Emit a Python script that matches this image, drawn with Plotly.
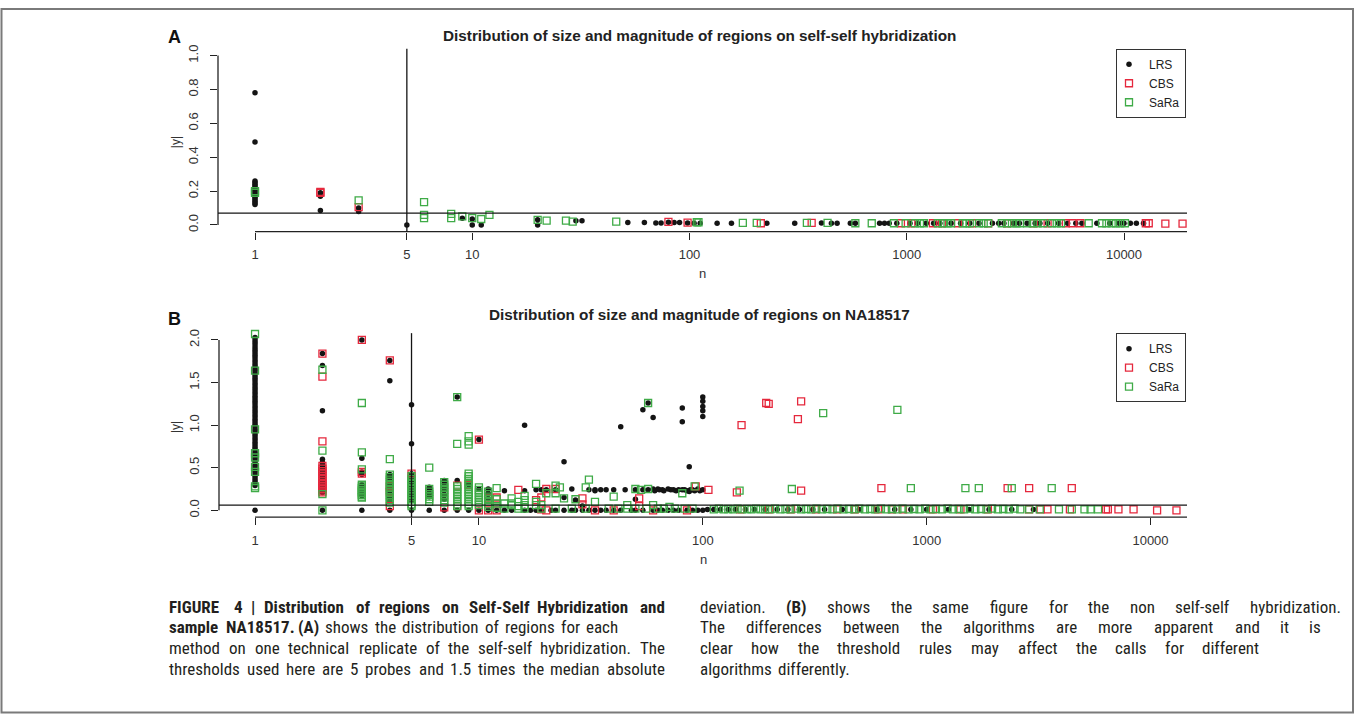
import math
import plotly.graph_objects as go

W, H = 1356, 714

# ---------------- Panel A : self-self hybridization ----------------
# entries: (n, |y|) or (n, [|y| values at that n])
lrs_a = [
    (1, [0.78, 0.49, 0.26, 0.25, 0.24, 0.23, 0.22, 0.21, 0.20, 0.19, 0.18, 0.17, 0.16, 0.15, 0.14, 0.13, 0.12]),
    (2, [0.19, 0.17, 0.085]), (3, [0.10, 0.08]), (5, 0.0),
    (9, 0.04), (10, [0.035, 0.0]), (11, 0.0), (20, [0.03, 0.0]), (30, 0.025), (32, 0.025),
    (52, 0.015), (62, 0.015), (70, 0.012), (74, 0.012), (80, 0.016), (85, 0.015), (90, 0.015),
    (98, 0.012), (105, 0.01), (112, 0.01), (134, 0.01), (156, 0.01), (227, 0.01), (305, 0.01),
    (405, 0.012), (450, 0.01), (478, 0.01), (550, 0.01), (580, 0.01), (750, 0.01), (790, 0.01),
    (830, 0.01), (900, 0.01), (1035, 0.01), (1120, 0.01), (1230, 0.01), (1330, 0.01), (1420, 0.01),
    (1600, 0.01), (1770, 0.01), (1950, 0.01), (2150, 0.01), (2480, 0.01), (2650, 0.01), (2800, 0.01),
    (3100, 0.01), (3300, 0.01), (3580, 0.01), (3900, 0.01), (4100, 0.01), (4450, 0.01), (5000, 0.01),
    (5500, 0.01), (6000, 0.01), (6400, 0.01), (7500, 0.01), (8600, 0.01), (9500, 0.01), (10000, 0.01),
    (10700, 0.01), (11400, 0.01), (12300, 0.01),
]
cbs_a = [
    (2, [0.195, 0.19]), (3, 0.105), (80, 0.018), (98, 0.014), (213, 0.01), (365, 0.012),
    (940, 0.01), (1050, 0.01), (1320, 0.01), (1450, 0.01), (1720, 0.01), (2000, 0.01), (2370, 0.01),
    (2900, 0.01), (3840, 0.01), (4450, 0.01), (5400, 0.01), (5800, 0.01), (6300, 0.01),
    (12600, 0.01), (13000, 0.01), (15500, 0.008), (18600, 0.008),
]
sara_a = [
    (1, [0.20, 0.19]), (3, 0.145), (6, [0.135, 0.06, 0.04]), (8, [0.065, 0.04]), (9, 0.05),
    (10, 0.04), (11, 0.035), (12, 0.06), (20, 0.03), (22, 0.025), (27, 0.025), (29, 0.02),
    (46, 0.02), (108, 0.016), (110, 0.016), (176, 0.012), (204, 0.012), (347, 0.012), (432, 0.012),
    (580, 0.01), (690, 0.01), (873, 0.01), (988, 0.01), (1090, 0.01), (1150, 0.01), (1200, 0.01),
    (1390, 0.01), (1470, 0.01), (1540, 0.01), (1600, 0.01), (1810, 0.01), (1880, 0.01), (1950, 0.01),
    (2150, 0.01), (2260, 0.01), (2370, 0.01), (2740, 0.01), (2900, 0.01), (3050, 0.01), (3200, 0.01),
    (3320, 0.01), (3580, 0.01), (3800, 0.01), (4000, 0.01), (4240, 0.01), (4660, 0.01), (4900, 0.01),
    (5130, 0.01), (6880, 0.01), (7920, 0.01), (8300, 0.01), (8770, 0.01), (9190, 0.01), (9600, 0.01),
    (10100, 0.01),
]
thr_a = 0.07

# ---------------- Panel B : NA18517 ----------------
lrs_b = [
    (1, [2.03, 2.0, 1.97, 1.94, 1.91, 1.88, 1.85, 1.82, 1.79, 1.76, 1.73, 1.70, 1.67, 1.64, 1.61,
         1.58, 1.55, 1.52, 1.49, 1.46, 1.43, 1.40, 1.37, 1.34, 1.31, 1.28, 1.25, 1.22, 1.19, 1.16,
         1.13, 1.10, 1.07, 1.04, 1.01, 0.98, 0.95, 0.92, 0.89, 0.86, 0.83, 0.80, 0.77, 0.74, 0.71,
         0.68, 0.65, 0.62, 0.59, 0.56, 0.53, 0.50, 0.47, 0.44, 0.41, 0.38, 0.35, 0.32, 0.29, 0.0]),
    (2, [1.84, 1.70, 1.17, 0.60, 0.56, 0.53, 0.50, 0.47, 0.44, 0.40, 0.36, 0.33, 0.30, 0.27, 0.24, 0.21, 0.0]),
    (3, [2.0, 0.61, 0.45, 0.42, 0.30, 0.27, 0.24, 0.20, 0.17, 0.0]),
    (4, [1.76, 1.52, 0.42, 0.39, 0.35, 0.31, 0.27, 0.23, 0.19, 0.15, 0.11, 0.0]),
    (5, [1.24, 0.78, 0.43, 0.38, 0.33, 0.28, 0.24, 0.20, 0.16, 0.12, 0.0]),
    (6, [0.27, 0.24, 0.20, 0.16, 0.0]), (7, [0.35, 0.32, 0.28, 0.23, 0.18, 0.13, 0.0]),
    (8, [1.33, 0.35, 0.0]), (9, [0.30, 0.0]), (10, [0.83, 0.25, 0.0]), (11, [0.25, 0.20, 0.14, 0.0]),
    (12, 0.0), (13, [0.23, 0.0]), (14, 0.0), (16, [1.0, 0.23, 0.0]), (17, 0.0), (18, [0.24, 0.0]),
    (19, [0.24, 0.0]), (20, 0.24), (21, 0.0), (22, [0.24, 0.0]), (24, [0.57, 0.15, 0.0]),
    (26, [0.25, 0.0]), (27, [0.12, 0.0]), (29, [0.05, 0.0]), (31, [0.24, 0.0]), (33, [0.24, 0.23, 0.0]),
    (35, [0.24, 0.0]), (37, [0.24, 0.0]), (40, [0.24, 0.0]), (43, [0.98, 0.0]), (45, 0.24), (48, 0.0),
    (50, [0.24, 0.13, 0.0]), (54, [1.18, 0.24, 0.0]), (57, [1.26, 0.24]), (60, [1.09, 0.25, 0.0]),
    (61, 0.23), (63, [0.25, 0.0]), (64, 0.24), (66, [0.24, 0.0]), (67, 0.23), (70, [0.25, 0.0]),
    (72, 0.24), (74, [0.24, 0.0]), (76, 0.23), (78, [0.24, 0.0]), (81, [1.20, 1.04, 0.24]), (83, 0.24),
    (85, [0.23, 0.0]), (87, [0.51, 0.22]), (88, 0.24), (90, [0.24, 0.0]), (92, 0.23), (95, [0.25, 0.0]),
    (97, 0.23), (100, [1.33, 1.28, 1.22, 1.17, 1.10, 0.24, 0.0]),
    (105, 0.01), (112, 0.01), (120, 0.01), (130, 0.01), (140, 0.01), (155, 0.01), (170, 0.01),
    (190, 0.01), (215, 0.01), (240, 0.01), (270, 0.01), (310, 0.01), (350, 0.01), (420, 0.01),
    (500, 0.01), (600, 0.01), (720, 0.01), (850, 0.01), (1000, 0.01), (1250, 0.01), (1550, 0.01),
    (1900, 0.01), (2400, 0.01), (3000, 0.01),
]
cbs_b = [
    (2, [1.84, 1.57, 0.81, 0.52, 0.49, 0.46, 0.43, 0.40, 0.37, 0.34, 0.31, 0.29, 0.27, 0.25, 0.23, 0.21]),
    (3, [2.0, 0.45, 0.43]), (4, [1.76, 0.28, 0.22, 0.05]), (5, 0.43), (7, 0.035), (8, [0.29, 0.05]),
    (9, 0.30), (10, [0.83, 0.0]), (11, [0.14, 0.0]), (12, [0.15, 0.0]), (15, 0.24), (18, 0.12),
    (19, [0.15, 0.01]), (20, [0.25, 0.0]), (22, 0.25), (29, [0.14, 0.07]), (33, 0.0), (40, 0.0),
    (52, [0.14, 0.05]), (60, 0.0), (85, 0.0), (93, 0.28), (106, 0.24), (142, 0.21), (147, 0.01),
    (149, 1.00), (192, 1.26), (197, [1.25, 0.01]), (248, 0.01), (266, 1.07), (275, [1.28, 0.23]),
    (320, 0.01), (398, 0.01), (478, 0.01), (606, 0.01), (628, 0.26), (700, 0.01), (784, 0.01),
    (1067, 0.01), (1416, 0.01), (1878, 0.01), (2300, 0.26), (2864, 0.01), (2870, 0.26), (3228, 0.01),
    (3465, 0.01), (4365, 0.01), (4450, 0.26), (6320, 0.01), (6450, 0.01), (7190, 0.01), (8400, 0.01),
    (10700, 0.0), (13060, 0.0),
]
sara_b = [
    (1, [2.07, 1.64, 0.95, 0.67, 0.62, 0.51, 0.45, 0.28, 0.26]),
    (2, [1.65, 0.70, 0.19, 0.0]),
    (3, [1.26, 0.68, 0.48, 0.30, 0.28, 0.26, 0.24, 0.22, 0.20, 0.18, 0.16, 0.15]),
    (4, [0.60, 0.42, 0.39, 0.36, 0.33, 0.30, 0.27, 0.24, 0.21, 0.18, 0.15, 0.12, 0.09]),
    (5, [0.40, 0.37, 0.34, 0.31, 0.28, 0.25, 0.22, 0.19, 0.16, 0.13, 0.10, 0.07, 0.05]),
    (6, [0.50, 0.25, 0.22, 0.19, 0.16, 0.13, 0.10]),
    (7, [0.33, 0.30, 0.27, 0.24, 0.21, 0.18, 0.15, 0.12, 0.09]),
    (8, [1.33, 0.78, 0.28, 0.25, 0.22, 0.19, 0.16, 0.13, 0.10, 0.07, 0.05]),
    (9, [0.87, 0.81, 0.77, 0.43, 0.40, 0.37, 0.34, 0.31, 0.28, 0.25, 0.22, 0.19, 0.16, 0.13, 0.10, 0.07, 0.05]),
    (10, [0.27, 0.24, 0.21, 0.18, 0.15, 0.12, 0.09, 0.06]),
    (11, [0.22, 0.19, 0.16, 0.13, 0.10, 0.07, 0.04]),
    (12, [0.26, 0.13, 0.08, 0.03]), (13, [0.08, 0.02]), (14, [0.14, 0.08, 0.06]),
    (15, [0.10, 0.05, 0.02]), (16, [0.17, 0.12, 0.06, 0.02]), (18, [0.31, 0.10, 0.06]),
    (19, [0.06, 0.02]), (20, 0.20), (22, [0.29, 0.20, 0.02]), (23, 0.27), (24, 0.14), (26, 0.02),
    (27, 0.13), (30, [0.27, 0.02]), (31, 0.36), (33, 0.10), (38, 0.02), (40, 0.16), (42, 0.02),
    (46, [0.06, 0.02]), (50, [0.25, 0.02]), (53, 0.24), (56, 0.02), (57, [1.26, 0.25]), (60, 0.06),
    (63, 0.02), (67, 0.02), (71, 0.04), (75, 0.02), (81, 0.20), (83, 0.02), (90, 0.02), (92, 0.28),
    (112, 0.01), (118, 0.02), (124, 0.01), (130, 0.015), (137, 0.01), (143, 0.02), (146, 0.23),
    (150, 0.01), (158, 0.015), (165, 0.01), (173, 0.02), (181, 0.01), (190, 0.015), (200, 0.01),
    (210, 0.02), (222, 0.01), (234, 0.015), (246, 0.01), (250, 0.25), (260, 0.02), (275, 0.01),
    (290, 0.015), (305, 0.01), (322, 0.02), (340, 0.01), (345, 1.14), (360, 0.015), (380, 0.01),
    (400, 0.02), (425, 0.01), (450, 0.015), (475, 0.01), (500, 0.02), (530, 0.01), (560, 0.015),
    (590, 0.01), (625, 0.02), (660, 0.01), (700, 0.015), (740, [1.18, 0.01]), (780, 0.02),
    (830, 0.01), (850, 0.26), (880, 0.015), (930, 0.01), (985, 0.02), (1040, 0.01), (1100, 0.015),
    (1170, 0.01), (1240, 0.02), (1310, 0.01), (1390, 0.015), (1470, 0.01), (1490, 0.26),
    (1560, 0.02), (1650, 0.01), (1710, 0.26), (1750, 0.015), (1850, 0.01), (1960, 0.02),
    (2080, 0.01), (2200, 0.015), (2330, 0.01), (2400, 0.26), (2470, 0.02), (2620, 0.01),
    (2870, 0.01), (3200, 0.01), (3620, 0.26), (3900, 0.01), (4450, 0.01), (5070, 0.01),
    (5400, 0.01), (5830, 0.01),
]
thr_b = 0.06

probe_threshold = 5
methods = ["LRS", "CBS", "SaRa"]
x_tickvals = [1, 5, 10, 100, 1000, 10000]
x_ticktext = ["1", "5", "10", "100", "1000", "10000"]
y_tickvals_a = [0, 0.2, 0.4, 0.6, 0.8, 1.0]
y_tickvals_b = [0, 0.5, 1.0, 1.5, 2.0]
titles = ["Distribution of size and magnitude of regions on self-self hybridization",
          "Distribution of size and magnitude of regions on NA18517"]
panel_letters = ["A", "B"]

caption_left = [
    "**FIGURE** **4** **|** **Distribution** **of** **regions** **on** **Self-Self** **Hybridization** **and**",
    "**sample** **NA18517.** **(A)** shows the distribution of regions for each",
    "method on one technical replicate of the self-self hybridization. The",
    "thresholds used here are 5 probes and 1.5 times the median absolute",
]
caption_right = [
    "deviation. **(B)** shows the same figure for the non self-self hybridization.",
    "The differences between the algorithms are more apparent and it is",
    "clear how the threshold rules may affect the calls for different",
    "algorithms differently.",
]

# ---------------- styling / geometry ----------------
RED = "#e5283d"
GREEN = "#3fab47"
BLACK = "#141414"
AXC = "#222222"
FONT = "Liberation Sans, Arial, sans-serif"
NARROW = "Roboto Condensed, Liberation Sans, sans-serif"

panels = [
    dict(left=218, right=1187, top=45, bottom=229, xr=[-0.1703, 4.290], yr=[-0.04, 1.04],
         yt=y_tickvals_a, thr=thr_a, data=(lrs_a, cbs_a, sara_a), title_y=32, letter_y=33,
         n_y=271, ymax=1.0),
    dict(left=219, right=1187, top=331, bottom=516, xr=[-0.161, 4.163], yr=[-0.08, 2.08],
         yt=y_tickvals_b, thr=thr_b, data=(lrs_b, cbs_b, sara_b), title_y=312, letter_y=317,
         n_y=559, ymax=2.0),
]


def flatten(groups):
    xs, ys = [], []
    for n, v in groups:
        vals = v if isinstance(v, list) else [v]
        for y in vals:
            xs.append(n)
            ys.append(y)
    return xs, ys


def fx(p):
    return p / W


def fy(p):
    return 1 - p / H


fig = go.Figure()
shapes = []
annotations = []
layout = {}

for i, p in enumerate(panels):
    k = "" if i == 0 else str(i + 1)
    xa, ya = "x" + k, "y" + k
    leg = "legend" if i == 0 else "legend2"
    styles = [
        dict(symbol="circle", size=5.5, color=BLACK),
        dict(symbol="square-open", size=7, color=RED, line=dict(width=1.3, color=RED)),
        dict(symbol="square-open", size=7, color=GREEN, line=dict(width=1.3, color=GREEN)),
    ]
    for name, groups, mk in zip(methods, p["data"], styles):
        xs, ys = flatten(groups)
        fig.add_trace(go.Scatter(x=xs, y=ys, mode="markers", name=name, marker=mk,
                                 xaxis=xa, yaxis=ya, legend=leg, cliponaxis=False,
                                 hoverinfo="x+y"))

    layout["xaxis" + k] = dict(
        domain=[fx(p["left"]), fx(p["right"])], type="log", range=p["xr"], anchor=ya,
        tickvals=x_tickvals, ticktext=x_ticktext, ticks="outside", ticklen=7, tickwidth=1.2,
        tickcolor=AXC, showgrid=False, zeroline=False, showline=False,
        tickfont=dict(family=FONT, size=13, color="#333"), ticklabelstandoff=4)
    layout["yaxis" + k] = dict(
        domain=[fy(p["bottom"]), fy(p["top"])], range=p["yr"], anchor=xa,
        tickvals=p["yt"], ticktext=["%.1f" % v for v in p["yt"]], tickangle=-90,
        ticks="outside", ticklen=7, tickwidth=1.2, tickcolor=AXC, showgrid=False,
        zeroline=False, showline=False, tickfont=dict(family=FONT, size=13, color="#333"),
        ticklabelstandoff=7)

    xr0, xr1 = p["xr"]
    span = xr1 - xr0
    # y axis line (0 .. max tick)
    shapes.append(dict(type="line", xref=xa + " domain", yref=ya, x0=0, x1=0, y0=0, y1=p["ymax"],
                       line=dict(color=AXC, width=1.3)))
    # x axis line from first tick to right edge
    shapes.append(dict(type="line", xref=xa + " domain", yref=ya + " domain",
                       x0=(0 - xr0) / span, x1=1, y0=0, y1=0, line=dict(color=AXC, width=1.3)))
    # threshold lines
    shapes.append(dict(type="line", xref=xa + " domain", yref=ya, x0=0, x1=1,
                       y0=p["thr"], y1=p["thr"], line=dict(color=BLACK, width=1.3)))
    xv = (math.log10(probe_threshold) - xr0) / span
    shapes.append(dict(type="line", xref=xa + " domain", yref=ya + " domain",
                       x0=xv, x1=xv, y0=0, y1=1, line=dict(color=BLACK, width=1.3)))

    layout[leg] = dict(x=fx(1186), xanchor="right", y=fy(p["top"]), yanchor="top",
                       bordercolor="#333", borderwidth=1, bgcolor="white",
                       font=dict(family=FONT, size=12, color="#222"), tracegroupgap=0,
                       indentation=-8, itemclick=False, itemdoubleclick=False)

    cx = (p["left"] + p["right"]) / 2
    annotations.append(dict(text="<b>%s</b>" % titles[i], x=fx(699), y=fy(p["title_y"]),
                            xref="paper", yref="paper", showarrow=False, xanchor="center",
                            yanchor="middle", font=dict(family=FONT, size=15.3, color="#222")))
    annotations.append(dict(text="<b>%s</b>" % panel_letters[i], x=fx(166), y=fy(p["letter_y"]),
                            xref="paper", yref="paper", showarrow=False, xanchor="left",
                            yanchor="middle", font=dict(family=FONT, size=18, color="#111")))
    annotations.append(dict(text="n", x=fx(cx), y=fy(p["n_y"]), xref="paper", yref="paper",
                            showarrow=False, xanchor="center", yanchor="middle",
                            font=dict(family=FONT, size=13, color="#333")))
    annotations.append(dict(text="|y|", x=fx(176), y=fy((p["top"] + p["bottom"]) / 2 + 2),
                            xref="paper", yref="paper", showarrow=False, textangle=-90,
                            xanchor="center", yanchor="middle",
                            font=dict(family=FONT, size=12, color="#333")))

# ---------------- caption (justified, word by word) ----------------
# approximate advance widths (1/1000 em) of a Roboto-like face; condensed factor applied below
REG = {' ': 248, 'a': 544, 'b': 548, 'c': 511, 'd': 549, 'e': 517, 'f': 339, 'g': 547, 'h': 537,
       'i': 237, 'j': 233, 'k': 495, 'l': 237, 'm': 855, 'n': 538, 'o': 557, 'p': 548, 'q': 551,
       'r': 331, 's': 503, 't': 319, 'u': 538, 'v': 473, 'w': 733, 'x': 484, 'y': 462, 'z': 484,
       'A': 652, 'B': 622, 'C': 651, 'D': 655, 'E': 568, 'F': 552, 'G': 681, 'H': 713, 'I': 272,
       'N': 713, 'R': 616, 'S': 593, 'T': 597, 'U': 648, '.': 263, ',': 196, '(': 342, ')': 348,
       '-': 276, '|': 244, '0': 562, '1': 562, '5': 562, '7': 562, '8': 562, '4': 562}
BOLD = {' ': 278, 'a': 556, 'b': 611, 'c': 556, 'd': 611, 'e': 556, 'f': 333, 'g': 611, 'h': 611,
        'i': 278, 'j': 278, 'k': 556, 'l': 278, 'm': 889, 'n': 611, 'o': 611, 'p': 611, 'q': 611,
        'r': 389, 's': 556, 't': 333, 'u': 611, 'v': 556, 'w': 778, 'x': 556, 'y': 556, 'z': 500,
        'A': 722, 'B': 722, 'C': 722, 'D': 722, 'E': 667, 'F': 611, 'G': 778, 'H': 722, 'I': 278,
        'N': 722, 'R': 722, 'S': 667, 'T': 611, 'U': 722, '.': 278, ',': 278, '(': 333, ')': 333,
        '-': 333, '|': 280}
CAP_SIZE = 17
REG_F = 0.92
BOLD_F = 0.87
MIN_GAP = 4.0


def word_w(word, bold):
    tab = BOLD if bold else REG
    f = BOLD_F if bold else REG_F
    return sum(tab.get(c, 556) for c in word) / 1000.0 * CAP_SIZE * f


def place_line(line, x_left, x_right, y):
    words = []
    for w in line.split(" "):
        b = w.startswith("**")
        words.append((w.strip("*"), b))
    widths = [word_w(w, b) for w, b in words]
    if x_right is None:
        gap = MIN_GAP + 1
    else:
        gap = max((x_right - x_left - sum(widths)) / max(len(words) - 1, 1), MIN_GAP)
    x = x_left
    for j, ((w, b), ww) in enumerate(zip(words, widths)):
        txt = "<b>%s</b>" % w if b else w
        annotations.append(dict(text=txt, x=fx(x), y=fy(y),
                                xref="paper", yref="paper", showarrow=False,
                                xanchor="left", yanchor="middle",
                                font=dict(family=NARROW, size=CAP_SIZE, color="#231f20")))
        x += ww + gap


cap_rows = [606, 627, 648, 669]
left_ends = [664, 617, 664, 664]
right_ends = [1339, 1319, 1258, None]
for line, yy, xe in zip(caption_left, cap_rows, left_ends):
    place_line(line, 167, xe, yy)
for line, yy, xe in zip(caption_right, cap_rows, right_ends):
    place_line(line, 698, xe, yy)

# page frame
shapes.append(dict(type="rect", xref="paper", yref="paper", x0=fx(1.5), x1=fx(1353),
                   y0=fy(712.5), y1=fy(5), line=dict(color="#7a7a7a", width=2)))

fig.update_layout(
    width=W, height=H, autosize=False, margin=dict(l=0, r=0, t=0, b=0, pad=0),
    paper_bgcolor="white", plot_bgcolor="white", showlegend=True,
    shapes=shapes, annotations=annotations, **layout)

fig.write_html("out.html")
